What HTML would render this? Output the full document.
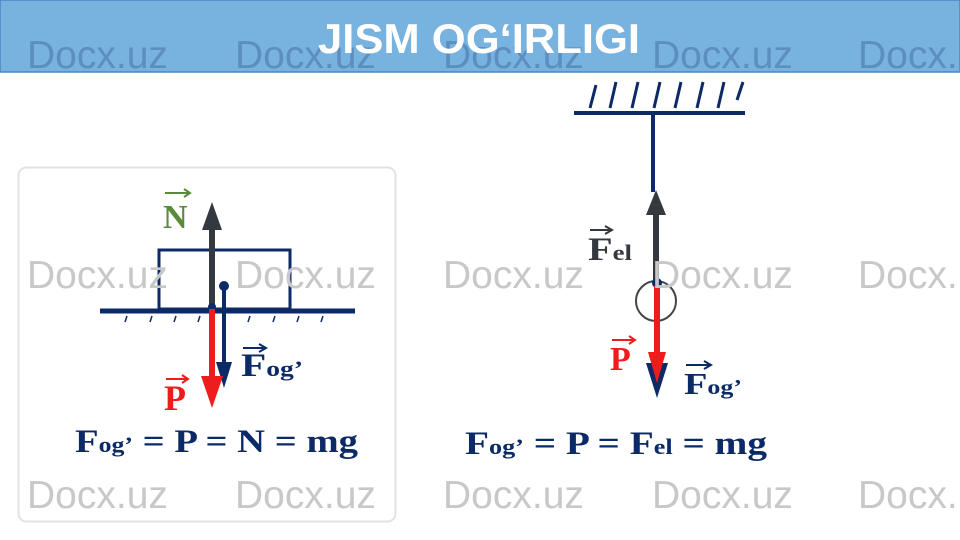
<!DOCTYPE html>
<html><head><meta charset="utf-8"><style>
html,body{margin:0;padding:0;width:960px;height:540px;overflow:hidden;background:#fff}
svg{display:block}
.wm{font-family:"Liberation Sans",sans-serif;font-size:39px;fill:#c8c8c8}
.wmt{font-family:"Liberation Sans",sans-serif;font-size:39px;fill:#5c8fbf}
.s{font-family:"Liberation Serif",serif;font-weight:bold}
</style></head><body>
<svg width="960" height="540" viewBox="0 0 960 540" xmlns="http://www.w3.org/2000/svg">
<rect x="0" y="0" width="960" height="72" fill="#78b2de" stroke="#4a86c0" stroke-width="1.5"/>
<text class="wmt" x="27" y="68">Docx.uz</text>
<text class="wmt" x="235" y="68">Docx.uz</text>
<text class="wmt" x="443" y="68">Docx.uz</text>
<text class="wmt" x="652" y="68">Docx.uz</text>
<text class="wmt" x="858" y="68">Docx.uz</text>
<text x="318" y="53" textLength="322" lengthAdjust="spacingAndGlyphs" font-family="Liberation Sans,sans-serif" font-weight="bold" font-size="42" fill="#fff">JISM OG‘IRLIGI</text>

<rect x="18.5" y="167.5" width="377" height="354" rx="8" fill="#fff" stroke="#e2e2e2" stroke-width="2"/>
<line x1="100" y1="311" x2="355" y2="311" stroke="#0b2a66" stroke-width="5"/>
<g stroke="#0b2a66" stroke-width="1.5">
<line x1="127" y1="316" x2="125" y2="322"/><line x1="152" y1="316" x2="150" y2="322"/><line x1="176" y1="316" x2="174" y2="322"/><line x1="200" y1="316" x2="198" y2="322"/><line x1="250" y1="316" x2="248" y2="322"/><line x1="275" y1="316" x2="273" y2="322"/><line x1="299" y1="316" x2="297" y2="322"/><line x1="323" y1="316" x2="321" y2="322"/>
</g>
<rect x="159" y="250" width="131" height="59" fill="none" stroke="#0b2a66" stroke-width="3"/>
<line x1="212" y1="306" x2="212" y2="225" stroke="#33393f" stroke-width="6"/>
<polygon points="212,202 202,230 222,230" fill="#33393f"/>
<text class="s" x="163" y="228" font-size="34" fill="#5a8a3a">N</text>
<path d="M165,193 H190 M184,189 L190,193 L184,197" stroke="#5a8a3a" stroke-width="2" fill="none"/>
<circle cx="224" cy="286" r="5" fill="#0b2a66"/>
<line x1="224" y1="286" x2="224" y2="365" stroke="#0b2a66" stroke-width="4"/>
<polygon points="224,388 216,362 232,362" fill="#0b2a66"/>
<circle cx="212" cy="307" r="4" fill="#0b2a66"/>
<line x1="212" y1="309" x2="212" y2="378" stroke="#ee1c1c" stroke-width="6"/>
<polygon points="212,408 201,376 223,376" fill="#ee1c1c"/>
<text class="s" x="164" y="410" font-size="36" fill="#ee1c1c">P</text>
<path d="M166,379 H188 M182,375 L188,379 L182,383" stroke="#ee1c1c" stroke-width="2" fill="none"/>
<text class="s" x="241" y="376" font-size="33" fill="#0b2a66" textLength="62" lengthAdjust="spacingAndGlyphs">F<tspan font-size="22">og’</tspan></text>
<path d="M243,348 H266 M259,344 L266,348 L259,352" stroke="#0b2a66" stroke-width="2" fill="none"/>
<text class="s" x="75" y="452" font-size="33" fill="#0b2a66" textLength="283" lengthAdjust="spacingAndGlyphs">F<tspan font-size="22">og’</tspan> = P = N = mg</text>

<line x1="574" y1="113" x2="745" y2="113" stroke="#0b2a66" stroke-width="4"/>
<g stroke="#0b2a66" stroke-width="3">
<line x1="590" y1="108" x2="596" y2="85"/><line x1="610" y1="108" x2="616" y2="82"/><line x1="632" y1="108" x2="638" y2="82"/><line x1="654" y1="108" x2="660" y2="82"/><line x1="675" y1="108" x2="681" y2="82"/><line x1="697" y1="108" x2="703" y2="82"/><line x1="718" y1="108" x2="724" y2="82"/><line x1="737" y1="100" x2="743" y2="82"/>
</g>
<line x1="653" y1="113" x2="653" y2="192" stroke="#0b2a66" stroke-width="4"/>
<line x1="656" y1="210" x2="656" y2="283" stroke="#33393f" stroke-width="6"/>
<polygon points="656,190 646,215 666,215" fill="#33393f"/>
<circle cx="656" cy="301" r="20" fill="none" stroke="#444" stroke-width="2"/>
<circle cx="657" cy="283" r="5" fill="#0b2a66"/>
<polygon points="657,398 646,363 668,363" fill="#0b2a66"/>
<line x1="657" y1="286" x2="657" y2="355" stroke="#ee1c1c" stroke-width="6"/>
<polygon points="657,383 648,352 666,352" fill="#ee1c1c"/>
<text class="s" x="588" y="260" font-size="33" fill="#33393f" textLength="44" lengthAdjust="spacingAndGlyphs">F<tspan font-size="22">el</tspan></text>
<path d="M590,230 H612 M605,226 L612,230 L605,234" stroke="#33393f" stroke-width="2" fill="none"/>
<text class="s" x="610" y="370" font-size="34" fill="#ee1c1c">P</text>
<path d="M612,340 H635 M629,336 L635,340 L629,344" stroke="#ee1c1c" stroke-width="2" fill="none"/>
<text class="s" x="684" y="394" font-size="31" fill="#0b2a66" textLength="58" lengthAdjust="spacingAndGlyphs">F<tspan font-size="21">og’</tspan></text>
<path d="M686,365 H711 M704,361 L711,365 L704,369" stroke="#0b2a66" stroke-width="2" fill="none"/>
<text class="s" x="465" y="454" font-size="33" fill="#0b2a66" textLength="302" lengthAdjust="spacingAndGlyphs">F<tspan font-size="22">og’</tspan> = P = F<tspan font-size="22">el</tspan> = mg</text>

<g>
<text class="wm" x="27" y="288">Docx.uz</text>
<text class="wm" x="235" y="288">Docx.uz</text>
<text class="wm" x="443" y="288">Docx.uz</text>
<text class="wm" x="652" y="288">Docx.uz</text>
<text class="wm" x="858" y="288">Docx.uz</text>
<text class="wm" x="27" y="508">Docx.uz</text>
<text class="wm" x="235" y="508">Docx.uz</text>
<text class="wm" x="443" y="508">Docx.uz</text>
<text class="wm" x="652" y="508">Docx.uz</text>
<text class="wm" x="858" y="508">Docx.uz</text>
</g>
</svg>
</body></html>
